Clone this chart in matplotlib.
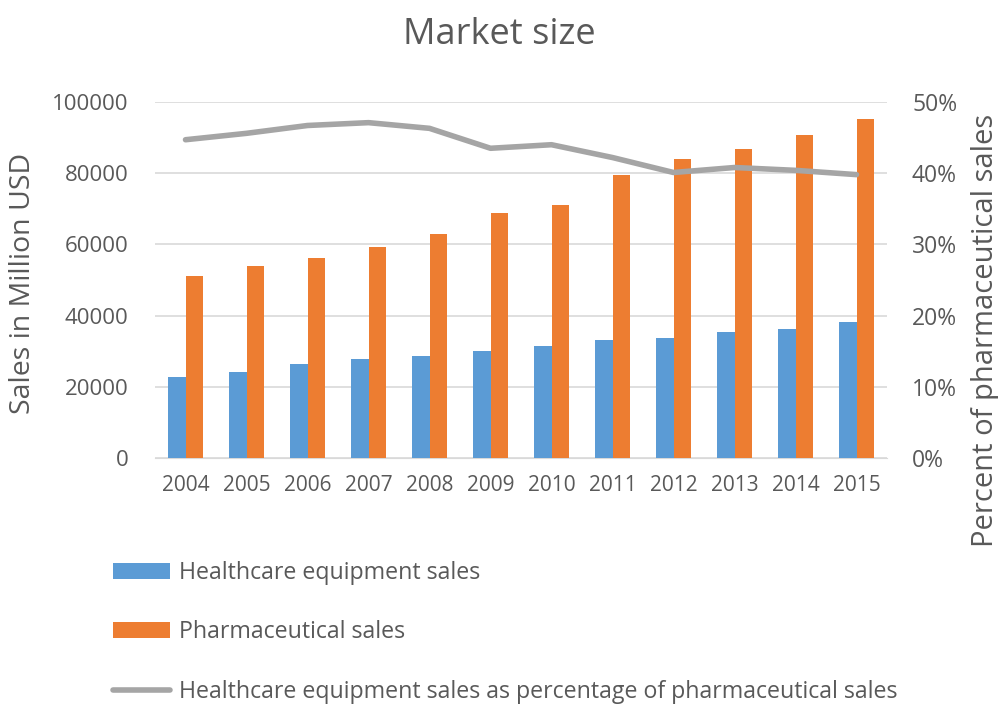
import matplotlib.pyplot as plt
from matplotlib.ticker import FuncFormatter
import numpy as np

plt.rcParams['font.family'] = ['Open Sans', 'DejaVu Sans']

years = ['2004', '2005', '2006', '2007', '2008', '2009', '2010', '2011', '2012', '2013', '2014', '2015']
equipment_sales = [22800, 24100, 26400, 27900, 28700, 30100, 31600, 33100, 33800, 35300, 36100, 38200]
pharma_sales = [51000, 54000, 56200, 59300, 63000, 68900, 71200, 79500, 83900, 86900, 90600, 95100]
equipment_pct = [44.7, 45.6, 46.7, 47.1, 46.3, 43.5, 44.0, 42.2, 40.1, 40.8, 40.4, 39.8]

text_col = '#595959'
grid_col = '#D9D9D9'

fig = plt.figure(figsize=(9.98, 7.06), dpi=100)
ax = fig.add_axes([155 / 998, 1 - 458 / 706, 732 / 998, 356 / 706])
ax2 = ax.twinx()

x = np.arange(len(years))
w = 0.29
b1 = ax.bar(x - w / 2, equipment_sales, w, color='#5B9BD5', label='Healthcare equipment sales', zorder=3)
b2 = ax.bar(x + w / 2, pharma_sales, w, color='#ED7D31', label='Pharmaceutical sales', zorder=3)
l1, = ax2.plot(x, equipment_pct, color='#A5A5A5', lw=4, solid_capstyle='round',
               label='Healthcare equipment sales as percentage of pharmaceutical sales')

ax.set_xlim(-0.5, len(years) - 0.5)
ax.set_ylim(0, 100000)
ax.set_yticks(range(0, 100001, 20000))
ax2.set_ylim(0, 50)
ax2.set_yticks(range(0, 51, 10))
ax2.yaxis.set_major_formatter(FuncFormatter(lambda v, p: '%d%%' % v))
ax.set_xticks(x)
ax.set_xticklabels(years)

ax.grid(axis='y', color=grid_col, lw=1.2, zorder=0)
for a in (ax, ax2):
    for s in a.spines.values():
        s.set_visible(False)
    a.tick_params(length=0, colors=text_col)
ax.spines['bottom'].set_visible(True)
ax.spines['bottom'].set_color(grid_col)
ax.tick_params(axis='x', pad=12, labelsize=15)
ax.tick_params(axis='y', pad=19, labelsize=16)
ax2.tick_params(axis='y', pad=18, labelsize=16.5)

fig.text(23 / 998, 1 - 283 / 706, 'Sales in Million USD', rotation=90,
         fontsize=20.5, color=text_col, ha='center', va='center')
fig.text(985 / 998, 1 - 330 / 706, 'Percent of pharmaceutical sales', rotation=90,
         fontsize=21, color=text_col, ha='center', va='center')
fig.text(0.5, 1 - 35 / 706, 'Market size', fontsize=26, color=text_col, ha='center', va='center')

fig.legend(handles=[b1, b2, l1], loc='upper left', bbox_to_anchor=(92 / 998, 1 - 540 / 706),
           frameon=False, fontsize=16.7, labelcolor=text_col, labelspacing=1.53,
           handlelength=2.45, handletextpad=0.4)

plt.savefig('out.png', dpi=100)
